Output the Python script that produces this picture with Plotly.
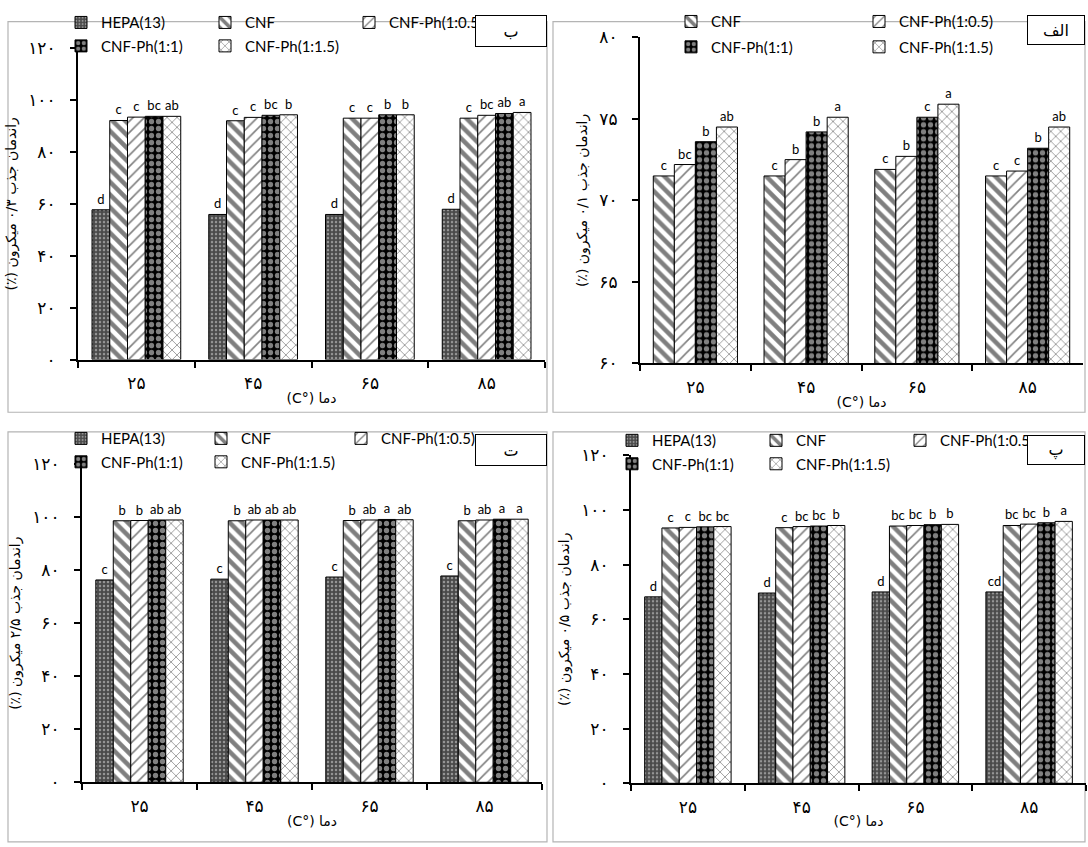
import plotly.graph_objects as go

W, H = 1088, 847

temps = ["۲۵", "۴۵", "۶۵", "۸۵"]
series_names = ["HEPA(13)", "CNF", "CNF-Ph(1:0.5)", "CNF-Ph(1:1)", "CNF-Ph(1:1.5)"]

# panel ب : 0.3 micron
b_hepa = [57.7, 55.9, 55.9, 57.9]
b_cnf = [92.1, 92.0, 93.0, 93.0]
b_ph05 = [93.4, 93.3, 93.0, 94.1]
b_ph10 = [93.7, 94.1, 94.3, 94.8]
b_ph15 = [93.7, 94.3, 94.3, 95.2]
b_sig_hepa = ["d", "d", "d", "d"]
b_sig_cnf = ["c", "c", "c", "c"]
b_sig_ph05 = ["c", "c", "c", "bc"]
b_sig_ph10 = ["bc", "bc", "b", "ab"]
b_sig_ph15 = ["ab", "b", "b", "a"]

# panel الف : 0.1 micron
a_cnf = [71.5, 71.5, 71.9, 71.5]
a_ph05 = [72.2, 72.5, 72.7, 71.8]
a_ph10 = [73.6, 74.2, 75.1, 73.2]
a_ph15 = [74.5, 75.1, 75.9, 74.5]
a_sig_cnf = ["c", "c", "c", "c"]
a_sig_ph05 = ["bc", "b", "b", "c"]
a_sig_ph10 = ["b", "b", "c", "b"]
a_sig_ph15 = ["ab", "a", "a", "ab"]

# panel ت : 2.5 micron
t_hepa = [76.3, 76.6, 77.4, 77.8]
t_cnf = [98.6, 98.6, 98.7, 98.6]
t_ph05 = [98.7, 98.9, 98.9, 98.9]
t_ph10 = [98.9, 98.9, 99.1, 99.2]
t_ph15 = [98.9, 98.9, 99.0, 99.2]
t_sig_hepa = ["c", "c", "c", "c"]
t_sig_cnf = ["b", "b", "b", "b"]
t_sig_ph05 = ["b", "ab", "ab", "ab"]
t_sig_ph10 = ["ab", "ab", "a", "a"]
t_sig_ph15 = ["ab", "ab", "ab", "a"]

# panel پ : 0.5 micron
p_hepa = [68.2, 69.6, 70.0, 70.0]
p_cnf = [93.4, 93.5, 94.1, 94.3]
p_ph05 = [93.6, 93.9, 94.3, 94.8]
p_ph10 = [93.8, 94.1, 94.6, 95.3]
p_ph15 = [93.9, 94.3, 94.7, 95.8]
p_sig_hepa = ["d", "d", "d", "cd"]
p_sig_cnf = ["c", "c", "bc", "bc"]
p_sig_ph05 = ["c", "bc", "bc", "bc"]
p_sig_ph10 = ["bc", "bc", "b", "b"]
p_sig_ph15 = ["bc", "b", "b", "a"]

ticks_0_120 = [0, 20, 40, 60, 80, 100, 120]
ticks_0_120_txt = ["۰", "۲۰", "۴۰", "۶۰", "۸۰", "۱۰۰", "۱۲۰"]
ticks_60_80 = [60, 65, 70, 75, 80]
ticks_60_80_txt = ["۶۰", "۶۵", "۷۰", "۷۵", "۸۰"]

x_title = "(C°) دما"
y_title_b = "(٪) راندمان جذب ۰/۳ میکرون"
y_title_a = "(٪) راندمان جذب ۰/۱ میکرون"
y_title_t = "(٪) راندمان جذب ۲/۵ میکرون"
y_title_p = "(٪) راندمان جذب ۰/۵ میکرون"

LAT = "Lato, 'DejaVu Sans', sans-serif"
FA = "'DejaVu Sans', sans-serif"

styles = {
    "HEPA(13)": dict(color="#4a4a4a", pattern=dict(shape=".", fgcolor="#e0e0e0", size=4, solidity=0.3, fillmode="overlay")),
    "CNF": dict(color="white", pattern=dict(shape="\\", fgcolor="black", size=9, solidity=0.5, fillmode="overlay")),
    "CNF-Ph(1:0.5)": dict(color="white", pattern=dict(shape="/", fgcolor="black", size=8, solidity=0.2, fillmode="overlay")),
    "CNF-Ph(1:1)": dict(color="black", pattern=dict(shape=".", fgcolor="white", size=7, solidity=0.45, fillmode="overlay")),
    "CNF-Ph(1:1.5)": dict(color="white", pattern=dict(shape="x", fgcolor="black", size=7, solidity=0.2, fillmode="overlay")),
}

fig = go.Figure()

def px(x):
    return x / W

def py(y):
    return 1 - y / H

panels = [
    dict(ax="", data=[b_hepa, b_cnf, b_ph05, b_ph10, b_ph15],
         sig=[b_sig_hepa, b_sig_cnf, b_sig_ph05, b_sig_ph10, b_sig_ph15],
         names=["HEPA(13)", "CNF", "CNF-Ph(1:0.5", "CNF-Ph(1:1)", "CNF-Ph(1:1.5)"],
         keys=series_names, legends=["legend", "legend", "legend", "legend2", "legend2"]),
    dict(ax="2", data=[a_cnf, a_ph05, a_ph10, a_ph15],
         sig=[a_sig_cnf, a_sig_ph05, a_sig_ph10, a_sig_ph15],
         names=series_names[1:], keys=series_names[1:],
         legends=["legend3", "legend3", "legend4", "legend4"]),
    dict(ax="3", data=[t_hepa, t_cnf, t_ph05, t_ph10, t_ph15],
         sig=[t_sig_hepa, t_sig_cnf, t_sig_ph05, t_sig_ph10, t_sig_ph15],
         names=series_names, keys=series_names,
         legends=["legend5", "legend5", "legend5", "legend6", "legend6"]),
    dict(ax="4", data=[p_hepa, p_cnf, p_ph05, p_ph10, p_ph15],
         sig=[p_sig_hepa, p_sig_cnf, p_sig_ph05, p_sig_ph10, p_sig_ph15],
         names=["HEPA(13)", "CNF", "CNF-Ph(1:0.5", "CNF-Ph(1:1)", "CNF-Ph(1:1.5)"],
         keys=series_names, legends=["legend7", "legend7", "legend7", "legend8", "legend8"]),
]

for p in panels:
    for vals, sig, nm, key, lg in zip(p["data"], p["sig"], p["names"], p["keys"], p["legends"]):
        st = styles[key]
        fig.add_trace(go.Bar(
            x=temps, y=vals, name=nm, legend=lg,
            xaxis="x" + p["ax"], yaxis="y" + p["ax"],
            marker=dict(color=st["color"], pattern=st["pattern"], line=dict(color="black", width=1)),
            text=sig, textposition="outside", constraintext="none", cliponaxis=False,
            textfont=dict(family=LAT, size=13, color="black"),
            hoverinfo="skip",
        ))

axis_common_x = dict(type="category", showline=True, linecolor="black", linewidth=2,
                     ticks="outside", tickson="boundaries", ticklen=6, tickcolor="black", tickwidth=1.5,
                     showgrid=False, zeroline=False, ticklabelstandoff=7,
                     tickfont=dict(family=FA, size=17, color="black"),
                     title=dict(text=x_title, font=dict(family=FA, size=14, color="black"), standoff=1))
axis_common_y = dict(showline=True, linecolor="black", linewidth=2, ticks="outside", ticklen=6,
                     tickcolor="black", tickwidth=1.5, showgrid=False, zeroline=False,
                     tickfont=dict(family=FA, size=17, color="black"), ticklabelstandoff=11)

geo = {
    "": dict(x=(78, 545), y0=358, y1=39, rng=[0, 120], tv=ticks_0_120, tt=ticks_0_120_txt, yt=y_title_b),
    "2": dict(x=(640, 1083), y0=362, y1=28, rng=[60, 80], tv=ticks_60_80, tt=ticks_60_80_txt, yt=y_title_a),
    "3": dict(x=(82, 542), y0=791, y1=465, rng=[0, 120], tv=ticks_0_120, tt=ticks_0_120_txt, yt=y_title_t),
    "4": dict(x=(631, 1086), y0=792, y1=456, rng=[0, 120], tv=ticks_0_120, tt=ticks_0_120_txt, yt=y_title_p),
}

layout = dict(width=W, height=H, margin=dict(l=0, r=0, t=0, b=0), autosize=False,
              paper_bgcolor="white", plot_bgcolor="rgba(0,0,0,0)", barmode="group",
              showlegend=True, font=dict(family=LAT, color="black"), bargap=0.24)
for k, g in geo.items():
    xa = dict(axis_common_x)
    xa.update(domain=[px(g["x"][0]), px(g["x"][1])], anchor="y" + k)
    ya = dict(axis_common_y)
    ya.update(domain=[py(g["y0"]), py(g["y1"])], anchor="x" + k, range=g["rng"],
              tickvals=g["tv"], ticktext=g["tt"],
              title=dict(text=g["yt"], font=dict(family=FA, size=14, color="black"), standoff=8))
    layout["xaxis" + k] = xa
    layout["yaxis" + k] = ya

fig.update_layout(**layout)

legend_pos = {
    "legend": (61, 13, 99), "legend2": (61, 37, 99),
    "legend3": (671, 12, 143), "legend4": (671, 38, 143),
    "legend5": (61, 439, 95), "legend6": (61, 463, 95),
    "legend7": (612, 441, 99), "legend8": (612, 465, 99),
}
for name, (lx, ly, ew) in legend_pos.items():
    fig.update_layout(**{name: dict(orientation="h", x=px(lx), y=py(ly), xanchor="left", yanchor="middle",
                                    entrywidth=ew, entrywidthmode="pixels", bgcolor="rgba(0,0,0,0)",
                                    font=dict(family=LAT, size=15, color="black"), traceorder="normal",
                                    itemclick=False, itemdoubleclick=False)})

frames = [(8, 12, 547, 412), (553, 12, 1085, 412), (8, 432, 547, 852), (553, 432, 1085, 852)]
shapes = []
for x0, y0, x1, y1 in frames:
    shapes.append(dict(type="rect", xref="paper", yref="paper", x0=px(x0), x1=px(x1), y0=py(y1), y1=py(y0),
                       line=dict(color="#b4b4b4", width=1.2), fillcolor="rgba(0,0,0,0)", layer="below"))
fig.update_layout(shapes=shapes)

boxes = [("ب", 511, 21, 70, 30), ("الف", 1056, 20, 56, 28), ("ت", 511, 451, 70, 30), ("پ", 1056, 451, 56, 28)]
for txt, cx, cy, bw, bh in boxes:
    fig.add_annotation(xref="paper", yref="paper", x=px(cx), y=py(cy), xanchor="center", yanchor="middle",
                       text=txt, showarrow=False,
                       width=bw, height=bh, bordercolor="black", borderwidth=1, borderpad=0,
                       bgcolor="white", font=dict(family=FA, size=16, color="black"))

fig.write_html("out.html", config={"displayModeBar": False},
               post_script="document.body.style.margin='0';document.body.style.overflow='hidden';")
